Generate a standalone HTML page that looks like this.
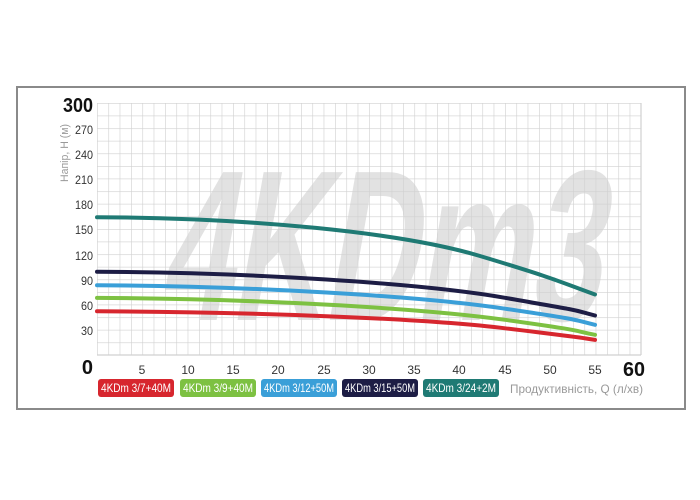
<!DOCTYPE html>
<html><head><meta charset="utf-8"><style>
body{margin:0;background:#fff;}
svg{display:block;font-family:"Liberation Sans",sans-serif;}
</style></head><body>
<svg width="700" height="500" viewBox="0 0 700 500" xmlns="http://www.w3.org/2000/svg">
<defs>
<pattern id="gp" x="97" y="103" width="11.3333" height="12.6" patternUnits="userSpaceOnUse">
<path d="M0 0 V12.6 M0 0 H11.3333" stroke="#d0d0d0" stroke-width="1.2" fill="none"/>
</pattern>
</defs>
<rect x="17" y="87" width="668" height="322" fill="#fff" stroke="#8a8a8a" stroke-width="2"/>
<text transform="translate(0,320) skewX(-10) translate(0,-320)" x="158" y="320" font-weight="bold" font-size="215" fill="#e2e2e2" textLength="440" lengthAdjust="spacingAndGlyphs">4KDm3</text>
<rect x="97" y="103" width="544" height="252" fill="url(#gp)"/>
<line x1="641" y1="103" x2="641" y2="355" stroke="#d0d0d0" stroke-width="1.2"/>
<line x1="97" y1="355" x2="641" y2="355" stroke="#d0d0d0" stroke-width="1.2"/>
<g fill="none" stroke-width="4" stroke-linecap="round" stroke-linejoin="round">
<path stroke="#d7262e" d="M97,311.3 C250,312 420,318 505,328.3 S570,336 595,339.9"/>
<path stroke="#7dc142" d="M97,297.9 C250,298.5 420,308 505,319.8 S570,330 595,334.8"/>
<path stroke="#3a9fd8" d="M97,285.3 C250,286 420,296 505,308.7 S570,319 595,324.8"/>
<path stroke="#1d1d45" d="M97,271.8 C250,272.5 420,283 505,297.8 S570,309 595,315.5"/>
<path stroke="#1f7a74" d="M97,217.2 C250,218 400,232 480,256 S560,282 595,294.5"/>
</g>
<g font-size="12" fill="#333" text-anchor="end">
<text x="93" y="134" textLength="18" lengthAdjust="spacingAndGlyphs">270</text>
<text x="93" y="159" textLength="18" lengthAdjust="spacingAndGlyphs">240</text>
<text x="93" y="184" textLength="18" lengthAdjust="spacingAndGlyphs">210</text>
<text x="93" y="209" textLength="18" lengthAdjust="spacingAndGlyphs">180</text>
<text x="93" y="234" textLength="18" lengthAdjust="spacingAndGlyphs">150</text>
<text x="93" y="260" textLength="18" lengthAdjust="spacingAndGlyphs">120</text>
<text x="93" y="285" textLength="12" lengthAdjust="spacingAndGlyphs">90</text>
<text x="93" y="310" textLength="12" lengthAdjust="spacingAndGlyphs">60</text>
<text x="93" y="335" textLength="12" lengthAdjust="spacingAndGlyphs">30</text>
</g>
<text x="93" y="112" font-size="20" font-weight="bold" fill="#111" text-anchor="end" textLength="30" lengthAdjust="spacingAndGlyphs">300</text>
<text x="93" y="374" font-size="20" font-weight="bold" fill="#111" text-anchor="end">0</text>
<text transform="translate(68,153) rotate(-90)" font-size="11" fill="#999" text-anchor="middle" textLength="58" lengthAdjust="spacingAndGlyphs">Напір, H (м)</text>
<g font-size="12" fill="#333" text-anchor="middle">
<text x="142" y="374">5</text><text x="188" y="374">10</text><text x="233" y="374">15</text>
<text x="278" y="374">20</text><text x="324" y="374">25</text><text x="369" y="374">30</text>
<text x="414" y="374">35</text><text x="459" y="374">40</text><text x="505" y="374">45</text>
<text x="550" y="374">50</text><text x="595" y="374">55</text>
</g>
<text x="634" y="376" font-size="20" font-weight="bold" fill="#111" text-anchor="middle" textLength="22" lengthAdjust="spacingAndGlyphs">60</text>
<g font-size="12" fill="#fff">
<rect x="98" y="379" width="76" height="18" rx="3" fill="#d7262e"/><text x="101" y="392" textLength="70" lengthAdjust="spacingAndGlyphs">4KDm 3/7+40M</text>
<rect x="180" y="379" width="76" height="18" rx="3" fill="#7dc142"/><text x="183" y="392" textLength="70" lengthAdjust="spacingAndGlyphs">4KDm 3/9+40M</text>
<rect x="261" y="379" width="76" height="18" rx="3" fill="#3a9fd8"/><text x="264" y="392" textLength="70" lengthAdjust="spacingAndGlyphs">4KDm 3/12+50M</text>
<rect x="342" y="379" width="76" height="18" rx="3" fill="#1d1d45"/><text x="345" y="392" textLength="70" lengthAdjust="spacingAndGlyphs">4KDm 3/15+50M</text>
<rect x="423" y="379" width="76" height="18" rx="3" fill="#1f7a74"/><text x="426" y="392" textLength="70" lengthAdjust="spacingAndGlyphs">4KDm 3/24+2M</text>
</g>
<text x="643" y="393" font-size="12" fill="#999" text-anchor="end" textLength="133" lengthAdjust="spacingAndGlyphs">Продуктивність, Q (л/хв)</text>
</svg>
</body></html>
